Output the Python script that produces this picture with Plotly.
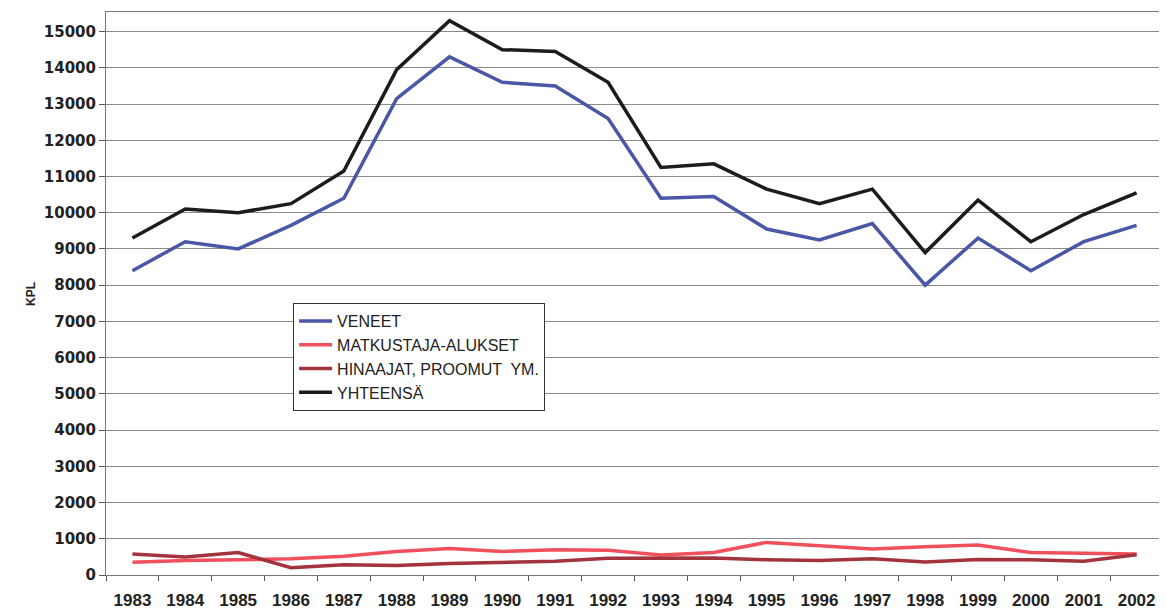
import plotly.graph_objects as go

years = [str(y) for y in range(1983, 2003)]
veneet = [8400, 9200, 9000, 9650, 10400, 13150, 14300, 13600, 13500, 12600,
          10400, 10450, 9550, 9250, 9700, 8000, 9300, 8400, 9200, 9650]
matkustaja = [350, 400, 420, 450, 520, 650, 730, 650, 700, 680,
              550, 620, 900, 800, 720, 780, 830, 620, 600, 580]
hinaajat = [580, 500, 620, 200, 280, 260, 320, 360, 380, 460,
            470, 470, 420, 400, 450, 360, 430, 420, 380, 560]
yhteensa = [9300, 10100, 10000, 10250, 11150, 13950, 15300, 14500, 14450, 13600,
            11250, 11350, 10650, 10250, 10650, 8900, 10350, 9200, 9950, 10550]
yticks = list(range(0, 16000, 1000))
ytick_labels = [str(v) for v in yticks]

series = [
    ("VENEET", veneet, "#4a56a6"),
    ("MATKUSTAJA-ALUKSET", matkustaja, "#f0505c"),
    ("HINAAJAT, PROOMUT  YM.", hinaajat, "#a3343e"),
    ("YHTEENSÄ", yhteensa, "#1c1c1c"),
]

fig = go.Figure()
for name, vals, col in series:
    fig.add_trace(go.Scatter(x=years, y=vals, name=name, mode="lines",
                             line=dict(color=col, width=3.5)))

fig.update_layout(
    width=1159, height=605,
    margin=dict(l=98, r=4, t=4, b=38),
    paper_bgcolor="white", plot_bgcolor="white",
    showlegend=True,
    legend=dict(x=0.177, y=0.483, xanchor="left", yanchor="top",
                bgcolor="white", bordercolor="#333", borderwidth=1,
                font=dict(family="Liberation Sans, Arial", size=16, color="#222"),
                itemwidth=33, tracegroupgap=0),
    font=dict(family="Liberation Sans, Arial", color="#222"),
)
fig.update_xaxes(type="category", range=[-0.5, 19.5], tickson="boundaries",
                 ticks="outside", ticklen=5, automargin=False, ticklabelstandoff=10,
                 tickcolor="#555", showline=True, linecolor="#777", mirror=True,
                 showgrid=False,
                 tickfont=dict(family="Liberation Sans, Arial", size=17, color="#222", weight="bold"))
fig.update_yaxes(range=[0, 15540], tickvals=yticks, ticktext=ytick_labels,
                 ticks="outside", ticklen=6, automargin=False,
                 tickcolor="#555", showline=True, linecolor="#777", mirror=True,
                 showgrid=True, gridcolor="#8a8a8a", gridwidth=1, zeroline=False,
                 tickfont=dict(family="DejaVu Sans", size=15, color="#222", weight="bold"))
fig.add_annotation(text="KPL", xref="paper", yref="paper", x=-0.08, y=0.5,
                   textangle=-90, showarrow=False,
                   font=dict(family="Liberation Sans, Arial", size=12, color="#222", weight="bold"))

fig.write_html("out.html")
